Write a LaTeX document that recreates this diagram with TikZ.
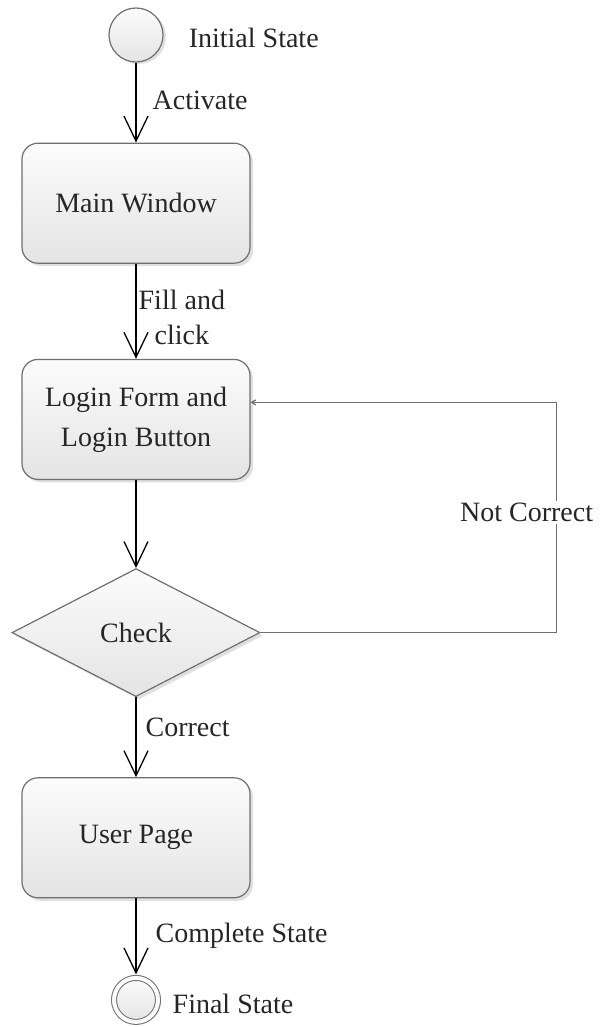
\documentclass[tikz,border=0pt]{standalone}
\usepackage{fontspec}
\setmainfont{Liberation Serif}
\usetikzlibrary{positioning,shapes.geometric,arrows.meta,shadows}
\definecolor{boxline}{HTML}{6F6F6F}
\definecolor{boxtop}{HTML}{FCFCFC}
\definecolor{boxbottom}{HTML}{E4E4E4}
\tikzset{
    >={Straight Barb[length=25pt,width=24pt]},
    state/.style={
        rectangle,
        rounded corners=16pt,
        draw=boxline, line width=1.2pt,
        top color=boxtop,
        bottom color=boxbottom,
        minimum width=228pt,
        minimum height=120pt,
        align=center,
        drop shadow={shadow xshift=3pt, shadow yshift=-3pt, fill=black!20, opacity=.6}
    },
    decision/.style={
        diamond,
        aspect=1.94,
        draw=boxline, line width=1.2pt,
        top color=boxtop,
        bottom color=boxbottom,
        minimum width=248pt,
        minimum height=128pt,
        inner sep=0pt,
        drop shadow={shadow xshift=3pt, shadow yshift=-3pt, fill=black!20, opacity=.6}
    },
    startstate/.style={
        circle,
        draw=boxline, line width=1.2pt,
        top color=boxtop,
        bottom color=boxbottom,
        minimum size=54pt,
        drop shadow={shadow xshift=3pt, shadow yshift=-2pt, fill=black!20, opacity=.6}
    },
    endstate/.style={
        circle,
        draw=boxline, line width=1pt,
        double=boxtop, double distance=4pt,
        top color=boxtop,
        bottom color=boxbottom,
        minimum size=44pt,
        drop shadow={shadow xshift=3pt, shadow yshift=-2pt, fill=black!20, opacity=.6}
    },
    line/.style={draw, line width=1.3pt, ->},
    back/.style={draw=boxline, line width=1.2pt, -{Straight Barb[length=4pt,width=5pt]}},
    lbl/.style={inner sep=2pt}
}

\begin{document}
\begin{tikzpicture}[x=1pt, y=1pt, font=\fontsize{28}{35}\selectfont, text=black!85]
    \useasboundingbox (0,0) rectangle (613,-1027);

    \node[startstate] (init) at (136,-35) {};
    \node[lbl, right=23pt of init, yshift=-3pt] (initlbl) {Initial State};
    \node[state, below=80pt of init] (main) {Main Window};
    \node[state, below=95pt of main, font=\fontsize{28}{40}\selectfont] (login) {Login Form and\\Login Button};
    \node[decision, below=88pt of login] (check) {Check};
    \node[state, below=80pt of check] (user) {User Page};
    \node[endstate, below=79pt of user] (final) {};
    \node[lbl, right=12pt of final, yshift=-4pt] (finallbl) {Final State};

    \path[line] (init) -- node[lbl, right=14pt, yshift=2pt] {Activate} (main);
    \path[line] (main) -- node[lbl, anchor=west, yshift=-6pt, align=center] {Fill and\\click} (login);
    \path[line] (login) -- (check);
    \path[line] (check) -- node[lbl, anchor=west, xshift=7pt, yshift=10pt] {Correct} (user);
    \path[line, shorten >=3pt] (user) -- node[lbl, right=17pt, yshift=2pt] {Complete State} (final);
    \draw[back] (check.east) -| ([xshift=306pt,yshift=17pt]login.east)
        node[pos=0.75, lbl, fill=white, xshift=-30pt, yshift=5pt] {Not Correct}
        -- ([yshift=17pt]login.east);
\end{tikzpicture}
\end{document}
